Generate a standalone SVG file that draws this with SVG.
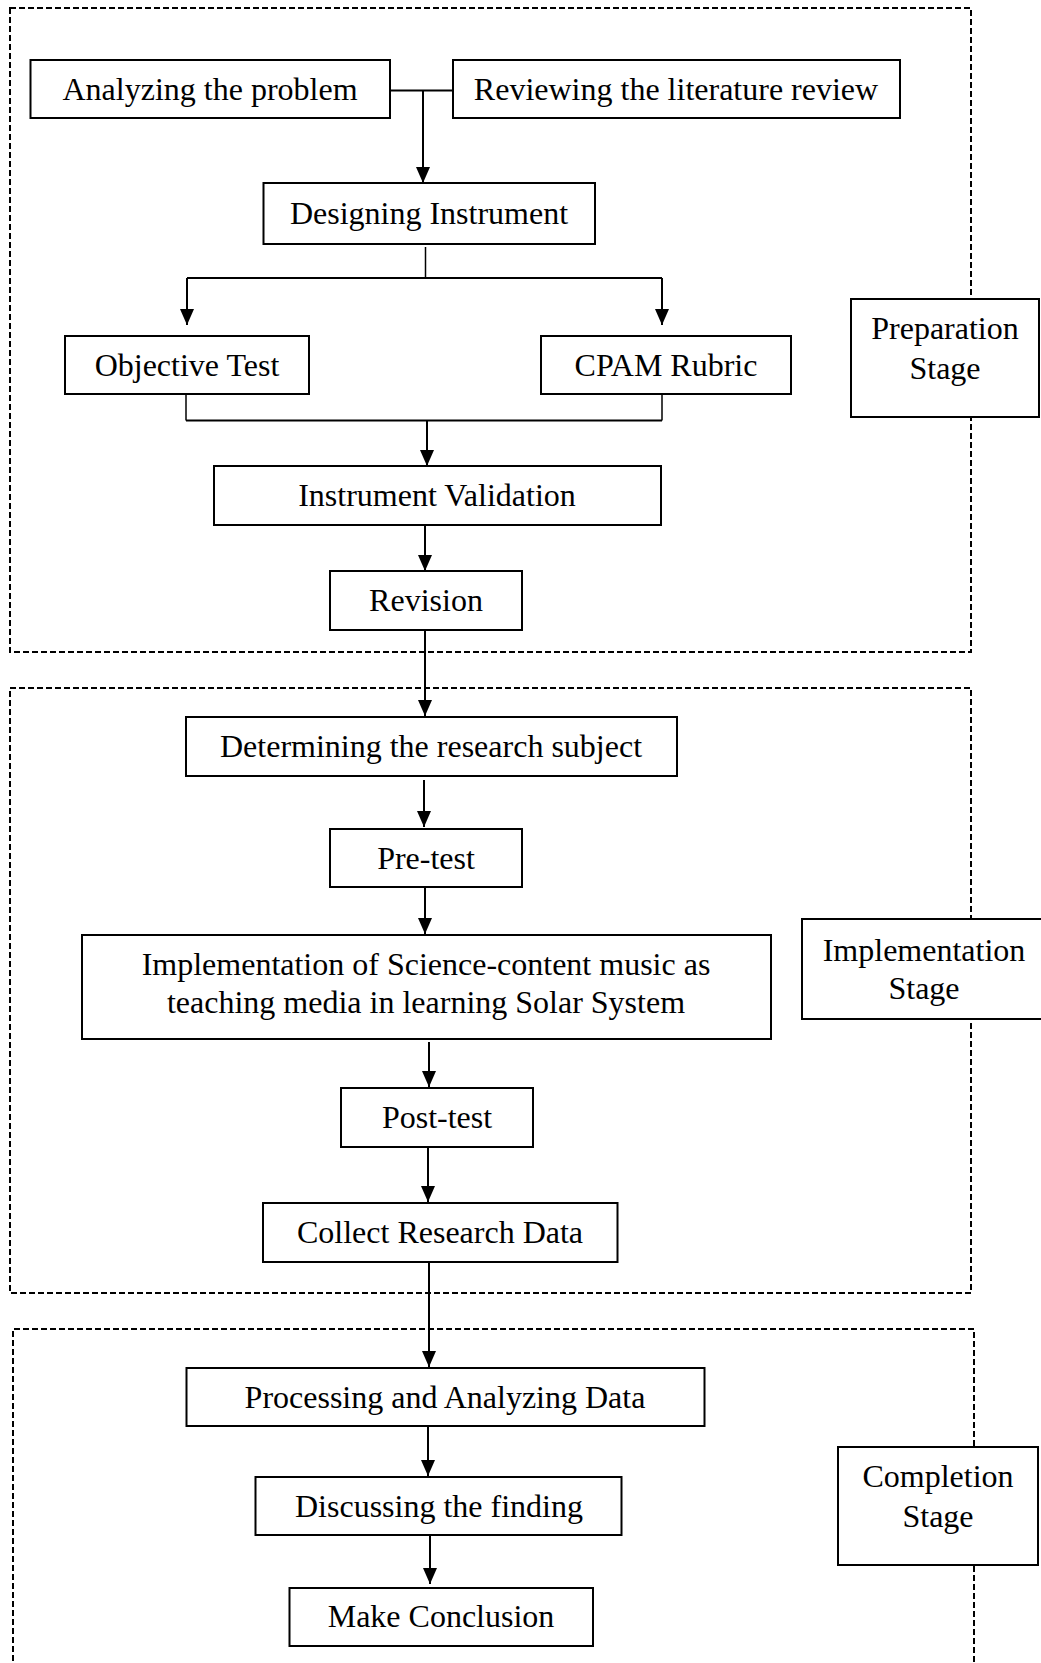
<svg xmlns="http://www.w3.org/2000/svg" width="1041" height="1663" viewBox="0 0 1041 1663">
<style>
.bg{fill:#ffffff}
.stage-frame{fill:none;stroke:#000;stroke-width:2;stroke-dasharray:6 3}
.box{fill:#ffffff;stroke:#000;stroke-width:2}
.lbl{font-family:"Liberation Serif","Times New Roman",serif;font-size:32px;fill:#000;text-anchor:middle}
.conn{fill:none;stroke:#000;stroke-width:2}
.thin{fill:none;stroke:#000;stroke-width:1.5}
</style>
<defs>
<marker id="arr" viewBox="0 0 16 14" refX="16" refY="7" markerWidth="16" markerHeight="14" markerUnits="userSpaceOnUse" orient="auto">
<path d="M0,0 L16,7 L0,14 Z" fill="#000"/>
</marker>
</defs>
<rect class="bg" x="0" y="0" width="1041" height="1663"/>

<g id="frames">
<rect class="stage-frame" x="10" y="8" width="961" height="644"/>
<rect class="stage-frame" x="10" y="688" width="961" height="605"/>
<path class="stage-frame" d="M13,1670 L13,1329 L974,1329 L974,1670"/>
</g>

<g id="connectors">
<path class="conn" d="M390,90.5 L453,90.5"/>
<path class="conn" d="M423,90.5 L423,183" marker-end="url(#arr)"/>
<path class="thin" d="M425.5,247 L425.5,278"/>
<path class="conn" d="M187,278 L662,278"/>
<path class="conn" d="M187,278 L187,325" marker-end="url(#arr)"/>
<path class="conn" d="M662,278 L662,325" marker-end="url(#arr)"/>
<path class="thin" d="M186,394 L186,420.5"/>
<path class="thin" d="M662,394 L662,420.5"/>
<path class="conn" d="M186,420.5 L662,420.5"/>
<path class="conn" d="M427,420.5 L427,466" marker-end="url(#arr)"/>
<path class="conn" d="M425,525 L425,571" marker-end="url(#arr)"/>
<path class="conn" d="M425,630 L425,716" marker-end="url(#arr)"/>
<path class="conn" d="M424,780 L424,827" marker-end="url(#arr)"/>
<path class="conn" d="M425,887 L425,934" marker-end="url(#arr)"/>
<path class="conn" d="M429,1042 L429,1087" marker-end="url(#arr)"/>
<path class="conn" d="M428,1147 L428,1202" marker-end="url(#arr)"/>
<path class="conn" d="M429,1262 L429,1367" marker-end="url(#arr)"/>
<path class="conn" d="M428,1426 L428,1476" marker-end="url(#arr)"/>
<path class="conn" d="M430,1535 L430,1584" marker-end="url(#arr)"/>
</g>

<g id="n-analyzing">
<rect class="box" x="30.5" y="60" width="359.5" height="58"/>
<text class="lbl" x="210" y="100">Analyzing the problem</text>
</g>
<g id="n-reviewing">
<rect class="box" x="453" y="60" width="447" height="58"/>
<text class="lbl" x="676" y="100">Reviewing the literature review</text>
</g>
<g id="n-designing">
<rect class="box" x="263.5" y="183" width="331.5" height="61"/>
<text class="lbl" x="429" y="224">Designing Instrument</text>
</g>
<g id="n-objective">
<rect class="box" x="65" y="336" width="244" height="58"/>
<text class="lbl" x="187" y="376">Objective Test</text>
</g>
<g id="n-cpam">
<rect class="box" x="541" y="336" width="250" height="58"/>
<text class="lbl" x="666" y="376">CPAM Rubric</text>
</g>
<g id="n-validation">
<rect class="box" x="214" y="466" width="447" height="59"/>
<text class="lbl" x="437" y="506">Instrument Validation</text>
</g>
<g id="n-revision">
<rect class="box" x="330" y="571" width="192" height="59"/>
<text class="lbl" x="426" y="611">Revision</text>
</g>
<g id="n-preparation">
<rect class="box" x="851" y="299" width="188" height="118"/>
<text class="lbl" x="945" y="339">Preparation</text>
<text class="lbl" x="945" y="379">Stage</text>
</g>

<g id="n-determining">
<rect class="box" x="186" y="717" width="491" height="59"/>
<text class="lbl" x="431" y="757">Determining the research subject</text>
</g>
<g id="n-pretest">
<rect class="box" x="330" y="829" width="192" height="58"/>
<text class="lbl" x="426" y="869">Pre-test</text>
</g>
<g id="n-implementation">
<rect class="box" x="82" y="935" width="689" height="104"/>
<text class="lbl" x="426" y="975">Implementation of Science-content music as</text>
<text class="lbl" x="426" y="1013">teaching media in learning Solar System</text>
</g>
<g id="n-posttest">
<rect class="box" x="341" y="1088" width="192" height="59"/>
<text class="lbl" x="437" y="1128">Post-test</text>
</g>
<g id="n-collect">
<rect class="box" x="263" y="1203" width="354.5" height="59"/>
<text class="lbl" x="440" y="1243">Collect Research Data</text>
</g>
<g id="n-implementation-stage">
<rect class="box" x="802" y="919" width="245" height="100"/>
<text class="lbl" x="924" y="961">Implementation</text>
<text class="lbl" x="924" y="999">Stage</text>
</g>

<g id="n-processing">
<rect class="box" x="186.5" y="1368" width="518" height="58"/>
<text class="lbl" x="445" y="1408">Processing and Analyzing Data</text>
</g>
<g id="n-discussing">
<rect class="box" x="255.5" y="1477" width="366" height="58"/>
<text class="lbl" x="439" y="1517">Discussing the finding</text>
</g>
<g id="n-conclusion">
<rect class="box" x="289.5" y="1588" width="303.5" height="58"/>
<text class="lbl" x="441" y="1627">Make Conclusion</text>
</g>
<g id="n-completion">
<rect class="box" x="838" y="1447" width="200" height="118"/>
<text class="lbl" x="938" y="1487">Completion</text>
<text class="lbl" x="938" y="1527">Stage</text>
</g>
</svg>
